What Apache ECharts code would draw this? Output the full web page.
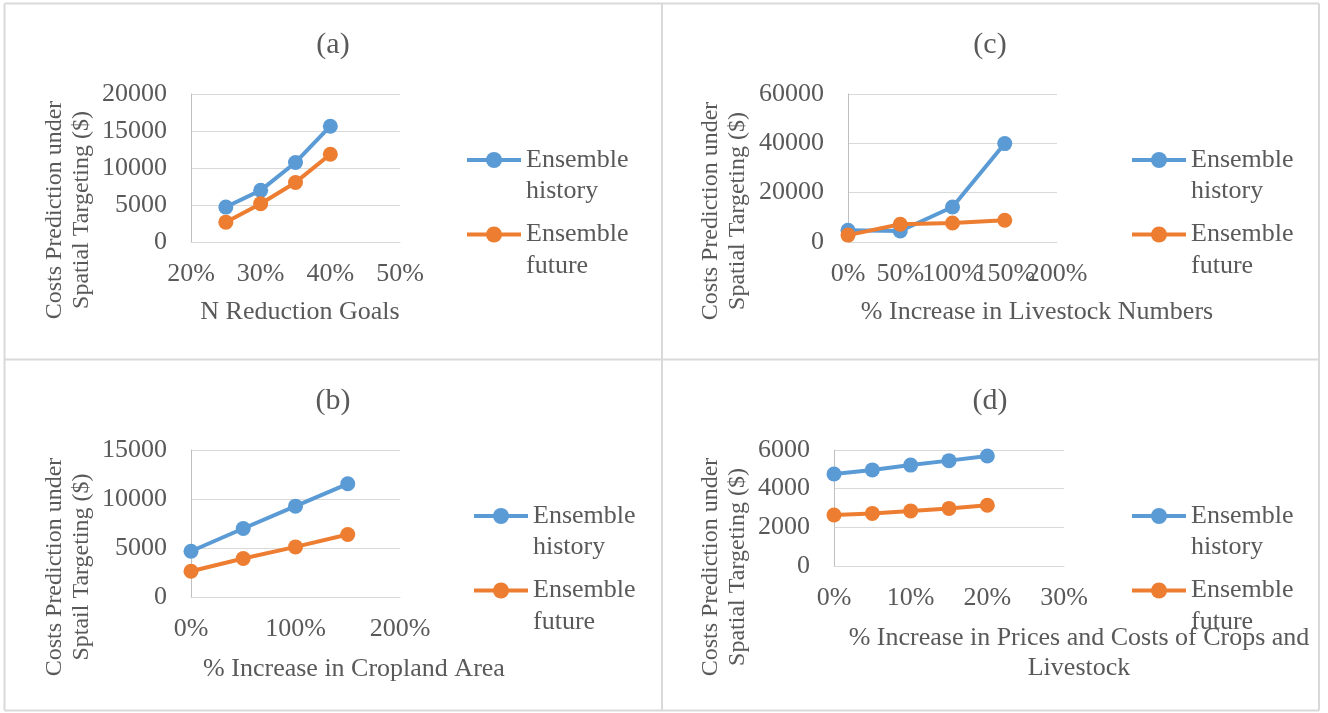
<!DOCTYPE html>
<html>
<head>
<meta charset="utf-8">
<script src="https://cdn.jsdelivr.net/npm/echarts@6/dist/echarts.min.js"></script>
<style>
  html, body { margin: 0; padding: 0; background: #ffffff; }
  #chart { width: 1328px; height: 713px; }
</style>
</head>
<body>
<div id="chart"></div>
<script>
// ---- data ----
const seriesNames = ['Ensemble history', 'Ensemble future'];

// (a) N reduction goals (%)
const xA = [25, 30, 35, 40];
const historyA = [4720, 6980, 10750, 15650];
const futureA = [2680, 5180, 8050, 11850];

// (b) % increase in cropland area
const xB = [0, 50, 100, 150];
const historyB = [4670, 6990, 9270, 11550];
const futureB = [2630, 3930, 5110, 6380];

// (c) % increase in livestock numbers
const xC = [0, 50, 100, 150];
const historyC = [4750, 4470, 14200, 39900];
const futureC = [2800, 7190, 7720, 8800];

// (d) % increase in prices and costs of crops and livestock
const xD = [0, 5, 10, 15, 20];
const historyD = [4760, 4970, 5220, 5450, 5690];
const futureD = [2640, 2720, 2850, 2980, 3140];

const panelTitles = ['(a)', '(b)', '(c)', '(d)'];
const xTitles = [
  'N Reduction Goals',
  '% Increase in Cropland Area',
  '% Increase in Livestock Numbers',
  '% Increase in Prices and Costs of Crops and\nLivestock'
];
const yTitles = [
  'Costs Prediction under\nSpatial Targeting ($)',
  'Costs Prediction under\nSptail Targeting ($)',
  'Costs Prediction under\nSpatial Targeting ($)',
  'Costs Prediction under\nSpatial Targeting ($)'
];

// ---- styling ----
const FONT = "'Liberation Serif', 'Times New Roman', serif";
const TEXT = '#595959';
const BLUE = '#5b9bd5';
const ORANGE = '#ed7d31';
const GRID_LINE = '#d9d9d9';
const LINE_W = 4;

// plot rectangles and label positions per panel (a, b, c, d)
// crowded: the percentage labels overlap, so the last one is drawn by a label-only companion axis
const layout = [
  { grid: { left: 191, top: 94, width: 209, height: 148 },
    x: { min: 20, max: 50, interval: 10 }, y: { max: 20000, interval: 5000 }, crowded: false,
    title: [333, 45], xTitle: [300, 312], yTitle: [68, 210], legend: [465, 160] },
  { grid: { left: 191, top: 450, width: 209, height: 147 },
    x: { min: 0, max: 200, interval: 100 }, y: { max: 15000, interval: 5000 }, crowded: false,
    title: [333, 401], xTitle: [354, 669], yTitle: [68, 567], legend: [472, 516] },
  { grid: { left: 848, top: 94, width: 209, height: 148 },
    x: { min: 0, max: 200, interval: 50 }, y: { max: 60000, interval: 20000 }, crowded: true,
    title: [990, 45], xTitle: [1037, 312], yTitle: [724, 211], legend: [1130, 160] },
  { grid: { left: 834, top: 450, width: 230, height: 116 },
    x: { min: 0, max: 30, interval: 10 }, y: { max: 6000, interval: 2000 }, crowded: false,
    title: [990, 401], xTitle: [1079, 653], yTitle: [724, 567], legend: [1130, 516] }
];

const panelData = [
  [xA, historyA, futureA],
  [xB, historyB, futureB],
  [xC, historyC, futureC],
  [xD, historyD, futureD]
];

// ---- build option ----
const grids = [], xAxes = [], yAxes = [], series = [], legends = [], graphics = [];
const extraXAxes = [];

const LEGEND_ITEM_H = 20;
const LEGEND_LINE_H = 31.5;
const LEGEND_BOX_H = LEGEND_LINE_H * 3;   // blank line + two text lines, so line one sits on the icon
const LEGEND_STEP = 74.5;                 // distance between the two entries

const xLabelStyle = { color: TEXT, fontFamily: FONT, fontSize: 26, margin: 19, hideOverlap: false };

layout.forEach((p, i) => {
  grids.push(Object.assign({ containLabel: false }, p.grid));

  xAxes.push({
    type: 'value', gridIndex: i, position: 'bottom',
    min: p.x.min, max: p.x.max, interval: p.x.interval,
    axisLine: { show: true, lineStyle: { color: GRID_LINE, width: 1 } },
    axisTick: { show: false },
    splitLine: { show: false },
    axisLabel: Object.assign({
      formatter: '{value}%',
      showMinLabel: true,
      showMaxLabel: p.crowded ? false : true
    }, xLabelStyle)
  });
  if (p.crowded) {
    extraXAxes.push({
      type: 'value', gridIndex: i, position: 'bottom', offset: 0,
      min: p.x.min, max: p.x.max, interval: p.x.interval,
      axisLine: { show: false }, axisTick: { show: false }, splitLine: { show: false },
      axisLabel: Object.assign({
        formatter: v => (v === p.x.max ? v + '%' : ''),
        showMaxLabel: true
      }, xLabelStyle)
    });
  }
  yAxes.push({
    type: 'value', gridIndex: i,
    min: 0, max: p.y.max, interval: p.y.interval,
    axisLine: { show: true, lineStyle: { color: '#bfbfbf', width: 1 } },
    axisTick: { show: false },
    splitLine: { show: true, lineStyle: { color: GRID_LINE, width: 1 } },
    axisLabel: {
      formatter: v => String(v), color: TEXT, fontFamily: FONT, fontSize: 26, margin: 24,
      showMinLabel: true, showMaxLabel: true
    }
  });

  const [xs, hist, fut] = panelData[i];
  [[hist, BLUE, seriesNames[0]], [fut, ORANGE, seriesNames[1]]].forEach(([vals, color, name]) => {
    series.push({
      type: 'line', name: name,
      xAxisIndex: i, yAxisIndex: i,
      data: xs.map((x, k) => [x, vals[k]]),
      symbol: 'circle', symbolSize: 15,
      lineStyle: { color: color, width: LINE_W },
      itemStyle: { color: color },
      emphasis: { disabled: true },
      animation: false
    });
  });

  legends.push({
    orient: 'vertical',
    left: p.legend[0],
    top: p.legend[1] - LEGEND_BOX_H / 2,
    padding: 0,
    itemWidth: 54, itemHeight: LEGEND_ITEM_H,
    itemGap: LEGEND_STEP - LEGEND_BOX_H,
    selectedMode: false,
    data: seriesNames,
    lineStyle: { width: LINE_W },
    formatter: name => '\n' + name.replace(' ', '\n'),
    textStyle: {
      color: TEXT, fontFamily: FONT, fontSize: 26,
      lineHeight: LEGEND_LINE_H
    }
  });

  // panel title
  graphics.push({
    type: 'text', x: p.title[0], y: p.title[1],
    style: { text: panelTitles[i], fill: TEXT, font: '30px ' + FONT, align: 'center', verticalAlign: 'middle' }
  });
  // x axis title
  graphics.push({
    type: 'text', x: p.xTitle[0], y: p.xTitle[1],
    style: { text: xTitles[i], fill: TEXT, font: '26px ' + FONT, lineHeight: 30, align: 'center', verticalAlign: 'middle' }
  });
  // y axis title, rotated to read bottom-to-top
  graphics.push({
    type: 'text', x: p.yTitle[0], y: p.yTitle[1], rotation: Math.PI / 2,
    style: { text: yTitles[i], fill: TEXT, font: '24px ' + FONT, lineHeight: 27, align: 'center', verticalAlign: 'middle' }
  });
});

// panel frame: outer border plus the dividers between the four panels
const frame = { x1: 4.5, y1: 3.5, x2: 1319, y2: 710.5, mx: 662, my: 359.5 };
const frameLines = [
  [frame.x1, frame.y1, frame.x2, frame.y1],
  [frame.x1, frame.y2, frame.x2, frame.y2],
  [frame.x1, frame.y1, frame.x1, frame.y2],
  [frame.x2, frame.y1, frame.x2, frame.y2],
  [frame.mx, frame.y1, frame.mx, frame.y2],
  [frame.x1, frame.my, frame.x2, frame.my]
];
frameLines.forEach(([x1, y1, x2, y2]) => {
  graphics.push({
    type: 'line', silent: true, z: -1,
    shape: { x1, y1, x2, y2 },
    style: { stroke: GRID_LINE, lineWidth: 2 }
  });
});

const chart = echarts.init(document.getElementById('chart'), null, { renderer: 'canvas' });
chart.setOption({
  backgroundColor: '#ffffff',
  animation: false,
  grid: grids,
  xAxis: xAxes.concat(extraXAxes),
  yAxis: yAxes,
  series: series,
  legend: legends,
  graphic: graphics
});
</script>
</body>
</html>
